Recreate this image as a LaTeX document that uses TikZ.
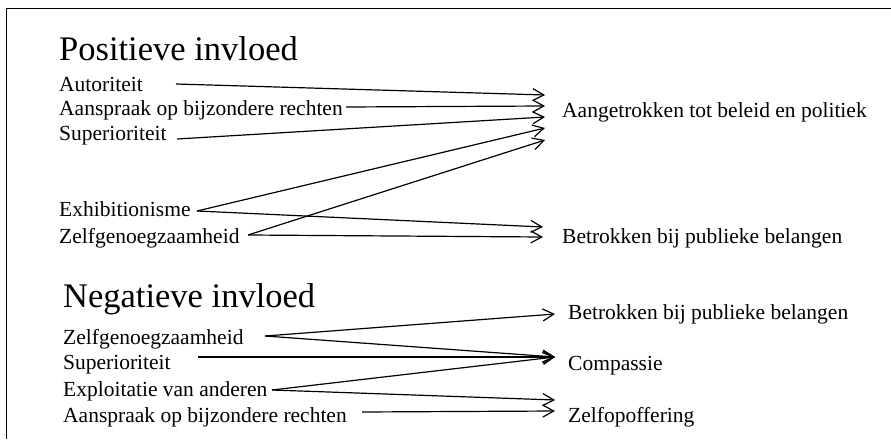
\documentclass[tikz,border=0pt]{standalone}
\usepackage{fontspec}
\setmainfont{Liberation Serif}
\usetikzlibrary{arrows.meta}
\begin{document}
\begin{tikzpicture}[x=1pt,y=-1pt,
  lbl/.style={anchor=base west,inner sep=0pt,font=\fontsize{21.5}{24}\selectfont},
  ttl/.style={anchor=base west,inner sep=0pt,font=\fontsize{34.5}{40}\selectfont},
  link/.style={line width=1.2pt,-{Straight Barb[length=11pt,width=12pt,line width=1.2pt]}}]
\useasboundingbox (0,0) rectangle (891,439);
% frame: left and top edges
\draw[line width=1.8pt] (6.5,439) -- (6.5,8.5) -- (891,8.5);

% ---- positive influence ----
\node[ttl] (ptitle) at (59,60) {Positieve invloed};
\node[lbl] (a1) at (59,91)  {Autoriteit};
\node[lbl] (a2) at (59,115) {Aanspraak op bijzondere rechten};
\node[lbl] (a3) at (59,140) {Superioriteit};
\node[lbl] (a4) at (59,216) {Exhibitionisme};
\node[lbl] (a5) at (59,243) {Zelfgenoegzaamheid};
\node[lbl] (t1) at (562,117) {Aangetrokken tot beleid en politiek};
\node[lbl] (t2) at (562,243) {Betrokken bij publieke belangen};

\coordinate (sA1) at (176,84);
\coordinate (sA2) at (346,107);
\coordinate (sA3) at (177,139);
\coordinate (sA4) at (197,211);
\coordinate (sA5) at (248,235);
\coordinate (tA1) at (545,95);
\coordinate (tA2) at (545,106);
\coordinate (tA3) at (545,117);
\coordinate (tA4) at (545,128);
\coordinate (tA5) at (545,140);
\coordinate (tB1) at (543,227);
\coordinate (tB2) at (543,237);

\draw[link] (sA1) -- (tA1);
\draw[link] (sA2) -- (tA2);
\draw[link] (sA3) -- (tA3);
\draw[link] (sA4) -- (tA4);
\draw[link] (sA5) -- (tA5);
\draw[link] (sA4) -- (tB1);
\draw[link] (sA5) -- (tB2);

% ---- negative influence ----
\node[ttl] (ntitle) at (63,307) {Negatieve invloed};
\node[lbl] (b1) at (63,344) {Zelfgenoegzaamheid};
\node[lbl] (b2) at (63,369) {Superioriteit};
\node[lbl] (b3) at (63,396) {Exploitatie van anderen};
\node[lbl] (b4) at (63,422) {Aanspraak op bijzondere rechten};
\node[lbl] (u1) at (568,319) {Betrokken bij publieke belangen};
\node[lbl] (u2) at (568,370) {Compassie};
\node[lbl] (u3) at (568,422) {Zelfopoffering};

\coordinate (sN1) at (265,336);
\coordinate (sN2) at (198,357);
\coordinate (sN3) at (272,390);
\coordinate (sN4) at (362,412);
\coordinate (tN1) at (555,314);
\coordinate (tN2) at (555,357);
\coordinate (tN3) at (555,400);
\coordinate (tN4) at (555,411);

\draw[link] (sN1) -- (tN1);
\draw[link] (sN1) -- (tN2);
\draw[link] (sN2) -- (tN2);
\draw[link] (sN3) -- (tN2);
\draw[link] (sN3) -- (tN3);
\draw[link] (sN4) -- (tN4);
\end{tikzpicture}
\end{document}
